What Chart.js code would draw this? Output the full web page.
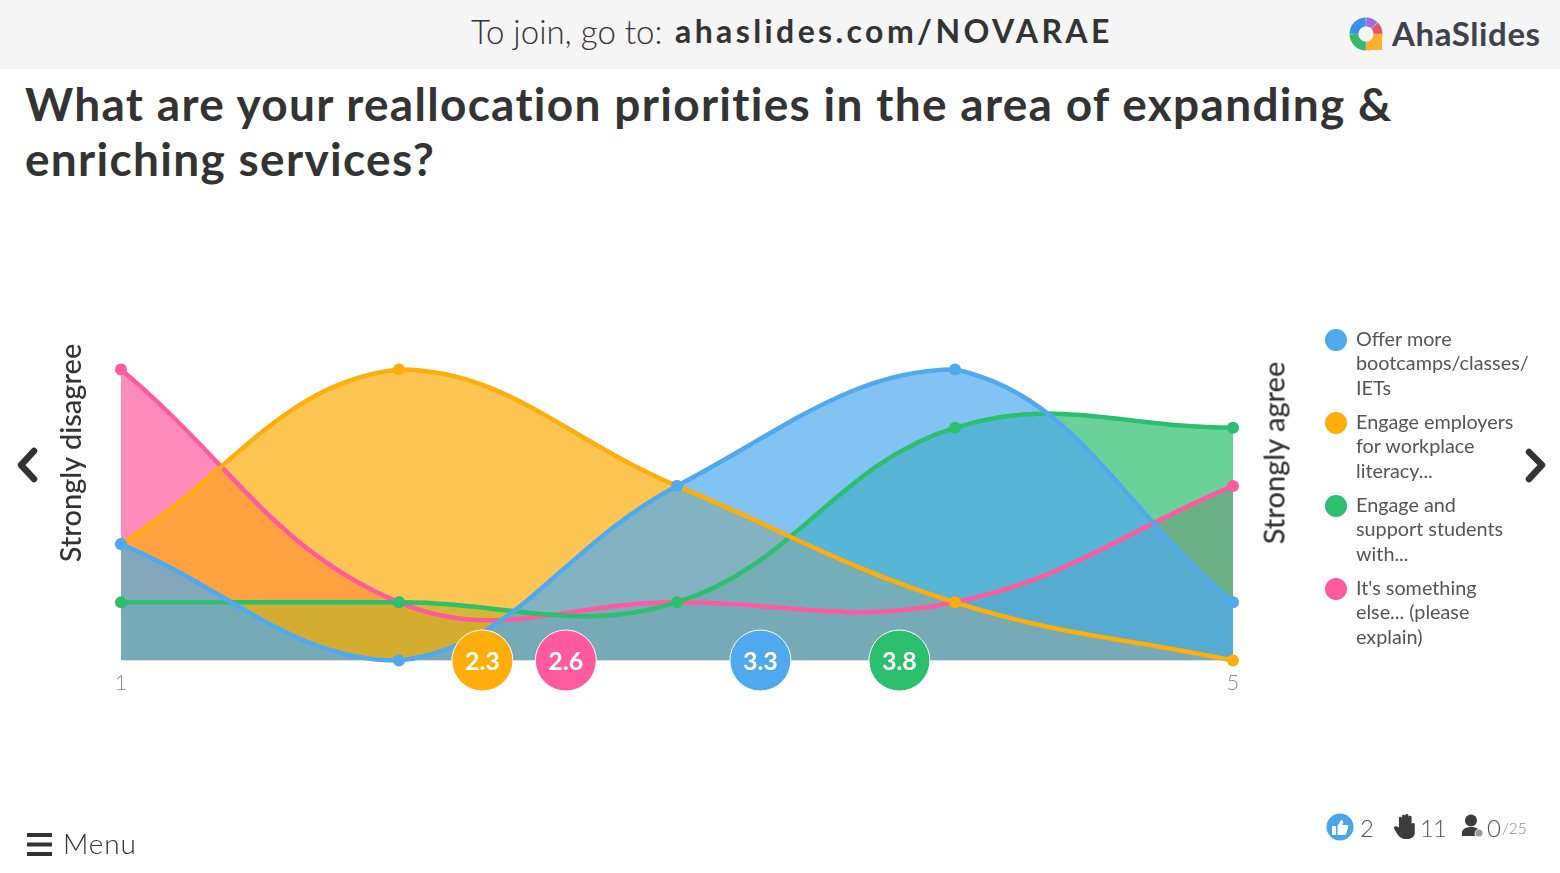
<!DOCTYPE html>
<html>
<head>
<meta charset="utf-8">
<title>AhaSlides</title>
<script src="https://cdn.jsdelivr.net/npm/chart.js@4"></script>
<style>
  html, body { margin: 0; padding: 0; background: #fff; overflow: hidden; }
  body { width: 1560px; height: 873px; position: relative; font-family: Lato, sans-serif; color: #333; }
  #chart { position: absolute; left: 0; top: 0; }
  .abs { position: absolute; white-space: nowrap; }
  #header { position: absolute; left: 0; top: 0; width: 1560px; height: 69px; background: #f5f5f5; }
  #title { left: 25px; top: 76px; font-size: 46px; line-height: 55px; font-weight: 700; letter-spacing: 1.3px; color: #333; }
  .side { font-size: 29px; font-weight: 500; color: #333; transform: translate(-50%, -50%) rotate(-90deg); }
  .leg-dot { position: absolute; left: 1325px; width: 22px; height: 22px; border-radius: 50%; }
  .leg-text { position: absolute; left: 1356px; font-size: 19.8px; line-height: 24.4px; color: #555; white-space: pre; }
  .stat { font-size: 24px; color: #555; font-weight: 300; }
</style>
</head>
<body>
<div id="header"></div>
<div class="abs" style="left:471px;top:12px;font-size:33px;line-height:38px;font-weight:300;color:#333">To join, go to:</div>
<div class="abs" style="left:675px;top:12px;font-size:32px;line-height:38px;font-weight:700;letter-spacing:3.4px;color:#333">ahaslides.com/NOVARAE</div>
<svg class="abs" style="left:1340px;top:8px" width="52" height="52" viewBox="0 0 52 52">
  <path d="M26 26 H42 V42 H26 Z" fill="#fbb034"/>
  <g fill="none" stroke-width="9" transform="translate(26 26)">
    <circle r="12" pathLength="360" stroke="#fbb034" stroke-dasharray="88 360" stroke-dashoffset="-1"/>
    <circle r="12" pathLength="360" stroke="#35b96d" stroke-dasharray="88 360" stroke-dashoffset="-91"/>
    <circle r="12" pathLength="360" stroke="#3d8fe8" stroke-dasharray="88 360" stroke-dashoffset="-181"/>
    <circle r="12" pathLength="360" stroke="#a06be0" stroke-dasharray="43 360" stroke-dashoffset="-271"/>
    <circle r="12" pathLength="360" stroke="#e2586a" stroke-dasharray="43 360" stroke-dashoffset="-316"/>
  </g>
  <circle cx="26" cy="26" r="7.5" fill="#f5f5f5"/>
</svg>
<div class="abs" style="left:1392px;top:13px;font-size:33px;line-height:40px;font-weight:700;letter-spacing:0.6px;color:#3f414f">AhaSlides</div>
<div class="abs" id="title">What are your reallocation priorities in the area of expanding &amp;<br>enriching services?</div>

<canvas id="chart" width="1560" height="873"></canvas>

<div class="abs side" style="left:69px;top:453px">Strongly disagree</div>
<div class="abs side" style="left:1273px;top:453px">Strongly agree</div>
<div id="legend"></div>

<svg class="abs" style="left:0;top:440px" width="60" height="50" fill="none" stroke="#333" stroke-width="6.5" stroke-linecap="round" stroke-linejoin="round">
  <polyline points="34,11 21,25 34,39"/>
</svg>
<svg class="abs" style="left:1500px;top:440px" width="60" height="50" fill="none" stroke="#333" stroke-width="6.5" stroke-linecap="round" stroke-linejoin="round">
  <polyline points="29,12 42,25 29,39"/>
</svg>

<svg class="abs" style="left:27px;top:832px" width="26" height="25" fill="#333">
  <rect y="1" width="25" height="4"/><rect y="10.5" width="25" height="4"/><rect y="20" width="25" height="4"/>
</svg>
<div class="abs" style="left:63px;top:826px;font-size:28px;line-height:34px;font-weight:300;letter-spacing:0.8px;color:#333">Menu</div>

<svg class="abs" style="left:1326px;top:813px" width="28" height="28">
  <circle cx="14" cy="14" r="13.5" fill="#4aa5ec"/>
  <path d="M6 13 h4 v9 h-4 Z M11.5 13 l3.5 -6 c2 0 2.5 1.5 2 3 l-0.5 2 h4.5 c1.5 0 1.5 2 1 3 l-2 6 c-0.3 1 -1 1 -2 1 h-6.5 Z" fill="#fff"/>
</svg>
<div class="abs stat" style="left:1360px;top:813px;line-height:29px">2</div>
<svg class="abs" style="left:1394px;top:814px" width="22" height="26" viewBox="1 1 18 25" preserveAspectRatio="none" fill="#3c3c3c">
  <path d="M5 14 V5 a1.3 1.3 0 0 1 2.6 0 V3 a1.3 1.3 0 0 1 2.6 0 V2.4 a1.3 1.3 0 0 1 2.6 0 V4 a1.3 1.3 0 0 1 2.6 0 V11 a1.3 1.3 0 0 1 2.6 0 V19 c0 4 -3 6 -6 6 h-2 c-3 0 -4.5 -2 -6 -4 L1 15 c-1 -1.5 1 -3 2.5 -2 Z"/>
</svg>
<div class="abs stat" style="left:1420px;top:813px;line-height:29px;letter-spacing:-1px">11</div>
<svg class="abs" style="left:1461px;top:814px" width="24" height="24">
  <circle cx="10" cy="6.5" r="6" fill="#3c3c3c"/>
  <path d="M1 22 v-3 c0 -4 4 -6 9 -6 c3 0 5 0.5 7 2 c-3 1 -4 4 -3 7 Z" fill="#3c3c3c"/>
  <circle cx="18" cy="19" r="3.6" fill="#9a9a9a"/>
</svg>
<div class="abs stat" style="left:1487px;top:813px;line-height:29px">0</div>
<div class="abs" style="left:1502px;top:819px;font-size:15.5px;line-height:19px;font-weight:300;color:#888">/25</div>

<script>
// scale positions 1..5, answers per position
const scalePoints = [1, 2, 3, 4, 5];
const tickLabels = ['1', '5'];

const offerMore = [2, 0, 3, 5, 1];
const engageEmployers = [2, 5, 3, 1, 0];
const engageStudents = [1, 1, 1, 4, 4];
const somethingElse = [5, 1, 1, 1, 3];

const seriesNames = ['Offer more\nbootcamps/classes/\nIETs', 'Engage employers\nfor workplace\nliteracy...', 'Engage and\nsupport students\nwith...', "It's something\nelse... (please\nexplain)"];
const seriesColors = ['#4fa9ef', '#ffad0a', '#2bbf6e', '#ff5a9e'];
const seriesFills = ['rgba(79,169,239,0.7)', 'rgba(255,173,10,0.7)', 'rgba(43,191,110,0.7)', 'rgba(255,90,158,0.7)'];

// averages shown in the round badges
const averages = [3.3, 2.3, 3.8, 2.6];
const legendTops = [329, 412, 495, 578];

const allSeries = [offerMore, engageEmployers, engageStudents, somethingElse];

// html legend, chart.js legend can't wrap labels like this
const legendDiv = document.getElementById('legend');
seriesNames.forEach((name, i) => {
  legendDiv.innerHTML += `
    <div class="leg-dot" style="top:${legendTops[i]}px;background:${seriesColors[i]}"></div>
    <div class="leg-text" style="top:${legendTops[i] - 3}px">${name}</div>
  `;
});

const datasets = allSeries.map((values, i) => ({
  label: seriesNames[i],
  data: values.map((v, j) => ({ x: scalePoints[j], y: v })),
  borderColor: seriesColors[i],
  backgroundColor: seriesFills[i],
  pointBackgroundColor: seriesColors[i],
  pointBorderWidth: 0,
  pointRadius: 6,
  borderWidth: 4.5,
  tension: 0.4,
  fill: 'origin',
  clip: false,
  order: i + 1
}));

// badges sit on the axis at their average
datasets.push({
  type: 'scatter',
  label: 'Averages',
  data: averages.map(a => ({ x: a, y: 0 })),
  pointRadius: 30.5,
  pointBackgroundColor: seriesColors,
  pointBorderColor: '#fff',
  pointBorderWidth: 1,
  clip: false,
  order: 0
});

const badgeText = {
  id: 'badgeText',
  afterDatasetsDraw(chart) {
    const ctx = chart.ctx;
    const meta = chart.getDatasetMeta(datasets.length - 1);
    ctx.save();
    ctx.fillStyle = '#fff';
    ctx.font = '700 25px Lato';
    ctx.textAlign = 'center';
    ctx.textBaseline = 'middle';
    meta.data.forEach((pt, i) => ctx.fillText(averages[i].toFixed(1), pt.x, pt.y + 1));
    ctx.restore();
  }
};

new Chart(document.getElementById('chart').getContext('2d'), {
  type: 'line',
  data: { datasets },
  plugins: [badgeText],
  options: {
    responsive: false,
    animation: false,
    layout: { padding: { left: 121, right: 327, top: 369.5, bottom: 172.5 } },
    plugins: {
      legend: { display: false },
      tooltip: { enabled: false },
      filler: { drawTime: 'beforeDatasetsDraw' }
    },
    scales: {
      x: {
        type: 'linear',
        min: 1,
        max: 5,
        border: { display: false },
        grid: { display: false },
        afterBuildTicks: axis => { axis.ticks = tickLabels.map(t => ({ value: Number(t) })); },
        afterFit: axis => { axis.height = 40; },
        ticks: { padding: 1, maxRotation: 0, color: '#8a8a8a', font: { family: 'Lato', size: 22, weight: '300' } }
      },
      y: { min: 0, max: 5, display: false }
    }
  }
});
</script>
</body>
</html>
